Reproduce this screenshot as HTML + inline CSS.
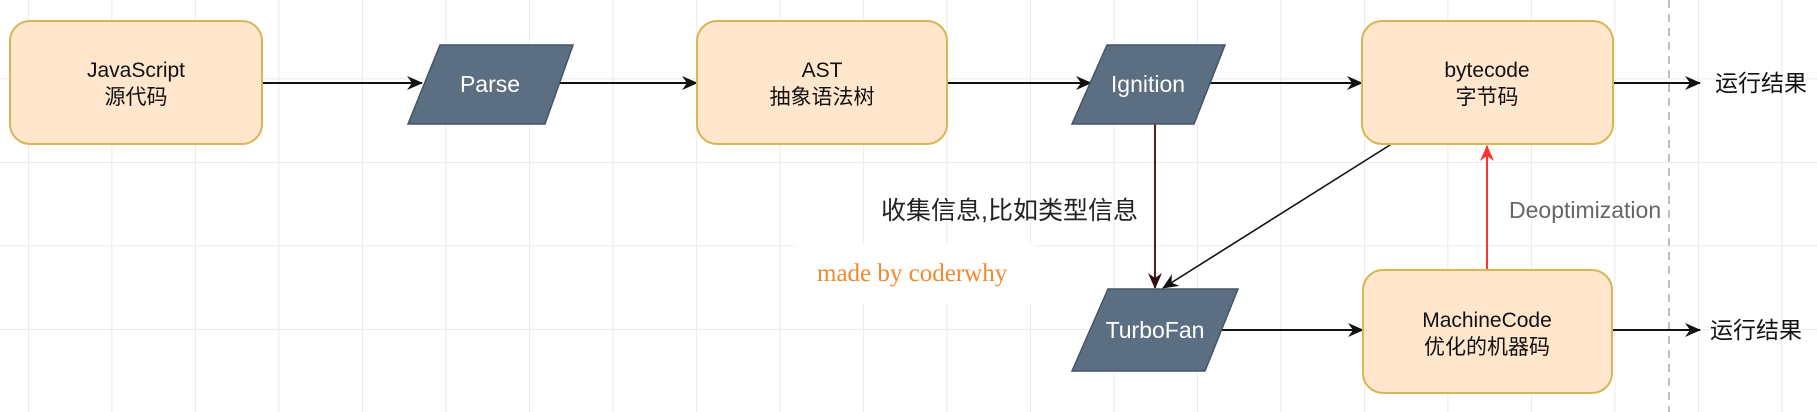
<!DOCTYPE html>
<html><head><meta charset="utf-8"><style>
html,body{margin:0;padding:0;width:1817px;height:412px;overflow:hidden;background:#fff}
svg text{font-family:"Liberation Sans","Noto Sans CJK SC",sans-serif}
</style></head><body>
<svg width="1817" height="412" viewBox="0 0 1817 412" xmlns="http://www.w3.org/2000/svg">
<defs>
<pattern id="g" x="28" y="-5" width="83.5" height="83.5" patternUnits="userSpaceOnUse">
<path d="M0 0H83.5M0 0V83.5" stroke="#e6e6e6" stroke-width="1.5" fill="none"/>
</pattern>
<marker id="a" markerWidth="16" markerHeight="14" refX="15" refY="7" orient="auto" markerUnits="userSpaceOnUse"><path d="M0,0 L16,7 L0,14 L5,7z" fill="#111"/></marker>
<marker id="ar" markerWidth="16" markerHeight="14" refX="15" refY="7" orient="auto" markerUnits="userSpaceOnUse"><path d="M0,0 L16,7 L0,14 L5,7z" fill="#ff3333"/></marker>
<marker id="ad" markerWidth="16" markerHeight="14" refX="15" refY="7" orient="auto" markerUnits="userSpaceOnUse"><path d="M0,0 L16,7 L0,14 L5,7z" fill="#3a0a0a"/></marker>
</defs>
<rect width="1817" height="412" fill="url(#g)"/>
<line x1="1669" y1="0" x2="1669" y2="412" stroke="#aaa" stroke-width="1.5" stroke-dasharray="8,6"/>
<rect x="794" y="243" width="243" height="61" fill="#fff" opacity="0.9"/>

<g stroke="#111" stroke-width="2" fill="none">
<line x1="262" y1="83" x2="422" y2="83" marker-end="url(#a)"/>
<line x1="558" y1="83" x2="697" y2="83" marker-end="url(#a)"/>
<line x1="947" y1="83" x2="1091" y2="83" marker-end="url(#a)"/>
<line x1="1210" y1="83" x2="1362" y2="83" marker-end="url(#a)"/>
<line x1="1613" y1="83" x2="1700" y2="83" marker-end="url(#a)"/>
<line x1="1390" y1="145" x2="1163" y2="288" marker-end="url(#a)" stroke-width="1.6"/>
<line x1="1210" y1="330" x2="1363" y2="330" marker-end="url(#a)"/>
<line x1="1612" y1="330" x2="1700" y2="330" marker-end="url(#a)"/>
</g>
<line x1="1155" y1="124" x2="1155" y2="288" stroke="#5a1a1a" stroke-width="2" marker-end="url(#ad)"/>
<line x1="1487" y1="270" x2="1487" y2="146" stroke="#ff3333" stroke-width="2" marker-end="url(#ar)"/>

<g fill="#ffe6cc" stroke="#d6b656" stroke-width="2">
<rect x="10" y="21" width="252" height="123" rx="20"/>
<rect x="697" y="21" width="250" height="123" rx="20"/>
<rect x="1362" y="21" width="251" height="123" rx="20"/>
<rect x="1363" y="270" width="249" height="123" rx="20"/>
</g>
<g fill="#5b6e82" stroke="#445566" stroke-width="1.5">
<polygon points="440,45 573,45 545,124 408,124"/>
<polygon points="1107,45 1225,45 1194,124 1072,124"/>
<polygon points="1108,289 1238,289 1205,371 1072,371"/>
</g>

<g font-size="21" fill="#111" text-anchor="middle">
<text x="136" y="77">JavaScript</text><text x="136" y="104">源代码</text>
<text x="822" y="77">AST</text><text x="822" y="104">抽象语法树</text>
<text x="1487" y="77">bytecode</text><text x="1487" y="104">字节码</text>
<text x="1487" y="327">MachineCode</text><text x="1487" y="354">优化的机器码</text>
</g>
<g font-size="23" fill="#fff" text-anchor="middle">
<text x="490" y="92">Parse</text>
<text x="1148" y="92">Ignition</text>
<text x="1155" y="338">TurboFan</text>
</g>
<text x="1715" y="91" font-size="23" fill="#111">运行结果</text>
<text x="1710" y="338" font-size="23" fill="#111">运行结果</text>
<text x="1509" y="218" font-size="23" fill="#666">Deoptimization</text>
<text x="881" y="219" font-size="25" fill="#222">收集信息,比如类型信息</text>
<text x="817" y="281" font-size="25" fill="#f08a30" style="font-family:'Liberation Serif',serif">made by coderwhy</text>
</svg>
</body></html>
